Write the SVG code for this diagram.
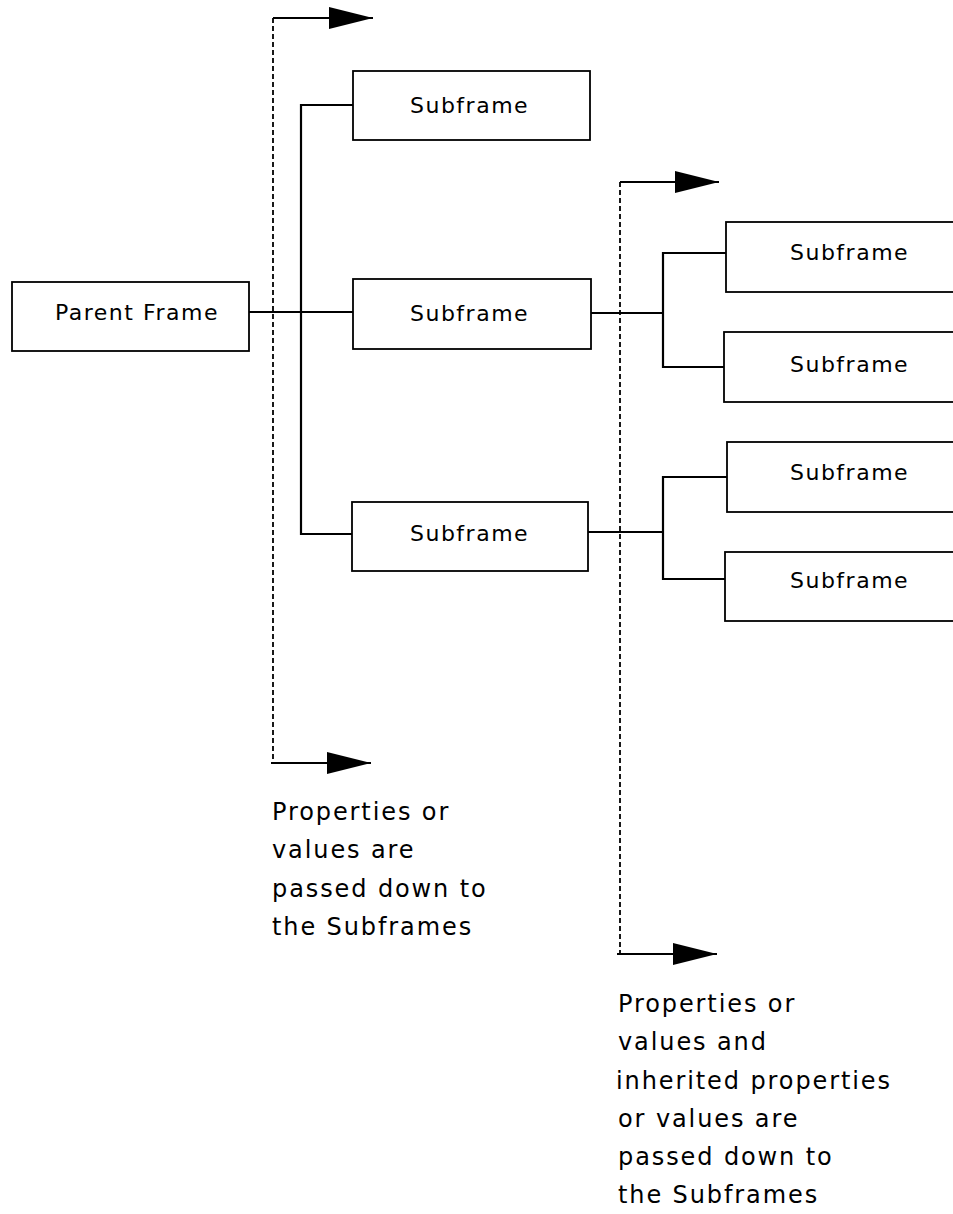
<svg xmlns="http://www.w3.org/2000/svg" width="953" height="1214" viewBox="0 0 953 1214">
<style>
.box{fill:#fff;stroke:#000;stroke-width:1.8}
.lbl{font-family:"DejaVu Sans","Liberation Sans",sans-serif;font-size:22px;letter-spacing:1.5px;fill:#000}
.note{font-family:"DejaVu Sans","Liberation Sans",sans-serif;font-size:24px;letter-spacing:1.9px;fill:#000}
.conn{fill:none;stroke:#000;stroke-width:2.2}
.dash{fill:none;stroke:#000;stroke-width:1.8;stroke-dasharray:5 3}
.arr{fill:none;stroke:#000;stroke-width:2.2}
</style>
<defs>
<marker id="ah" markerUnits="userSpaceOnUse" markerWidth="46" markerHeight="24" refX="44" refY="11" orient="auto">
<path d="M0,0 L44,11 L0,22 Z" fill="#000"/>
</marker>
</defs>
<rect width="953" height="1214" fill="#fff"/>
<g id="connectors">
<path class="conn" d="M249,312 H353"/>
<path class="conn" d="M353,105 H301 V534 H352"/>
<path class="conn" d="M591,313 H663"/>
<path class="conn" d="M726,253 H663 V367 H725"/>
<path class="conn" d="M588,532 H663"/>
<path class="conn" d="M727,477 H663 V579 H725"/>
<path class="dash" d="M273,18 V763"/>
<path class="arr" d="M273,18 H373" marker-end="url(#ah)"/>
<path class="arr" d="M271,763 H371" marker-end="url(#ah)"/>
<path class="dash" d="M620,182 V954"/>
<path class="arr" d="M620,182 H719" marker-end="url(#ah)"/>
<path class="arr" d="M617,954 H717" marker-end="url(#ah)"/>
</g>
<g id="parent"><rect class="box" x="12" y="282" width="237" height="69"/><text class="lbl" x="55" y="320">Parent Frame</text></g>
<g id="sub1"><rect class="box" x="353" y="71" width="237" height="69"/><text class="lbl" x="410" y="113">Subframe</text></g>
<g id="sub2"><rect class="box" x="353" y="279" width="238" height="70"/><text class="lbl" x="410" y="321">Subframe</text></g>
<g id="sub3"><rect class="box" x="352" y="502" width="236" height="69"/><text class="lbl" x="410" y="541">Subframe</text></g>
<g id="subA"><rect class="box" x="726" y="222" width="240" height="70"/><text class="lbl" x="790" y="260">Subframe</text></g>
<g id="subB"><rect class="box" x="724" y="332" width="240" height="70"/><text class="lbl" x="790" y="372">Subframe</text></g>
<g id="subC"><rect class="box" x="727" y="442" width="240" height="70"/><text class="lbl" x="790" y="480">Subframe</text></g>
<g id="subD"><rect class="box" x="725" y="552" width="240" height="69"/><text class="lbl" x="790" y="588">Subframe</text></g>
<g id="note1">
<text class="note" x="272" y="820">Properties or</text>
<text class="note" x="272" y="858">values are</text>
<text class="note" x="272" y="897">passed down to</text>
<text class="note" x="272" y="935">the Subframes</text>
</g>
<g id="note2">
<text class="note" x="618" y="1012">Properties or</text>
<text class="note" x="618" y="1050">values and</text>
<text class="note" x="616" y="1089">inherited properties</text>
<text class="note" x="618" y="1127">or values are</text>
<text class="note" x="618" y="1165">passed down to</text>
<text class="note" x="618" y="1203">the Subframes</text>
</g>
</svg>
